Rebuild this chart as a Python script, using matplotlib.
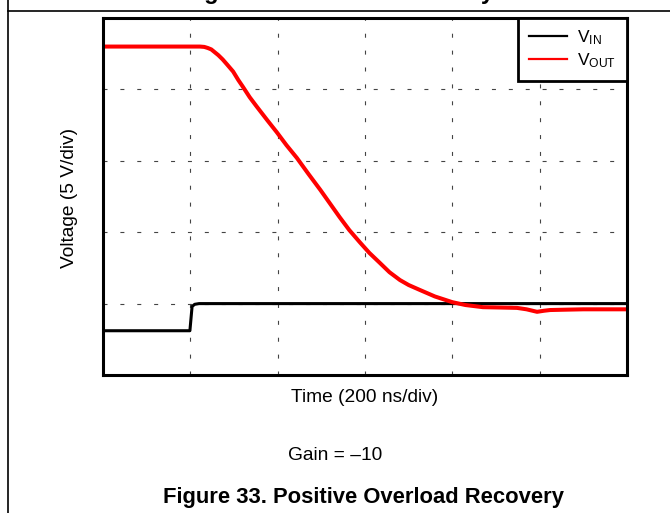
import matplotlib
matplotlib.use("Agg")
import matplotlib.pyplot as plt
from matplotlib.lines import Line2D

plt.rcParams["font.family"] = ["Liberation Sans", "DejaVu Sans"]
plt.rcParams["mathtext.fontset"] = "custom"
plt.rcParams["mathtext.rm"] = "Liberation Sans"
plt.rcParams["mathtext.it"] = "Liberation Sans"

# Oscilloscope trace, in screen divisions (200 ns/div horizontally, 5 V/div vertically)
t_in = [0.0, 0.995, 1.02, 1.05, 1.10, 6.0]
v_in = [0.62, 0.62, 0.96, 0.99, 1.00, 1.00]

t_out = [0.0, 1.11, 1.16, 1.20, 1.24, 1.28, 1.32, 1.37, 1.42, 1.49, 1.55, 1.60,
         1.68, 1.76, 1.88, 1.99, 2.10, 2.22, 2.35, 2.49, 2.60, 2.71, 2.82, 2.94,
         3.05, 3.17, 3.28, 3.40, 3.50, 3.63, 3.80, 4.00, 4.15, 4.35, 4.55, 4.74,
         4.85, 4.97, 5.05, 5.12, 5.30, 5.50, 6.00]
v_out = [4.60, 4.60, 4.595, 4.58, 4.56, 4.52, 4.48, 4.42, 4.35, 4.25, 4.13, 4.04,
         3.89, 3.76, 3.57, 3.40, 3.22, 3.04, 2.82, 2.59, 2.40, 2.21, 2.03, 1.86,
         1.71, 1.57, 1.44, 1.33, 1.26, 1.19, 1.10, 1.02, 0.98, 0.95, 0.945, 0.94,
         0.92, 0.885, 0.90, 0.91, 0.915, 0.92, 0.92]

n_xdiv = 6
n_ydiv = 5
series_labels = [r"V$_{\mathregular{IN}}$", r"V$_{\mathregular{OUT}}$"]

fig = plt.figure(figsize=(6.70, 5.13), dpi=100)
ax = fig.add_axes([103 / 670, 1 - 375 / 513, 524 / 670, 357 / 513])

ax.plot(t_in, v_in, color="black", lw=2.2, solid_joinstyle="round")
ax.plot(t_out, v_out, color="#ff0000", lw=2.9, solid_joinstyle="round",
        solid_capstyle="butt")

ax.set_xlim(0, n_xdiv)
ax.set_ylim(0, n_ydiv)
ax.set_xticks(range(1, n_xdiv))
ax.set_yticks(range(1, n_ydiv))
ax.tick_params(length=0, labelbottom=False, labelleft=False)
ax.grid(True, color="#444444", lw=0.8, ls=(0, (3.6, 11.6)))
for sp in ax.spines.values():
    sp.set_linewidth(2.2)
    sp.set_color("black")

handles = [Line2D([], [], color="black", lw=1.6),
           Line2D([], [], color="#ff0000", lw=1.6)]
leg = ax.legend(handles, series_labels, loc="upper right", fontsize=12.5,
                frameon=True, fancybox=False, borderaxespad=0,
                handlelength=2.2, handletextpad=0.6, borderpad=0.6,
                labelspacing=0.25, framealpha=1)
leg.get_frame().set_edgecolor("black")
leg.get_frame().set_linewidth(2.0)

fig.text(365 / 670, 1 - 397 / 513, "Time (200 ns/div)", ha="center",
         va="center", fontsize=13.8)
fig.text(70 / 670, 1 - 198 / 513, "Voltage (5 V/div)", ha="center",
         va="center", rotation=90, fontsize=13.8)
fig.text(335 / 670, 1 - 456 / 513, "Gain = \u201310", ha="center",
         va="center", fontsize=13.8)
fig.text(364 / 670, 1 - 497 / 513, "Figure 33. Positive Overload Recovery",
         ha="center", va="center", fontsize=15.8, fontweight="bold")

# Caption of the cell above, cut off by the page edge
fig.text(334 / 670, 1 + 1.5 / 513, "Negative Overload Recovery", ha="center",
         va="baseline", fontsize=17, fontweight="bold")

# Table cell borders
fig.add_artist(Line2D([8 / 670, 8 / 670], [0, 1], transform=fig.transFigure,
                      color="black", lw=1.2))
fig.add_artist(Line2D([8 / 670, 1], [1 - 11 / 513, 1 - 11 / 513],
                      transform=fig.transFigure, color="black", lw=1.2))

fig.savefig("out.png", dpi=100)
